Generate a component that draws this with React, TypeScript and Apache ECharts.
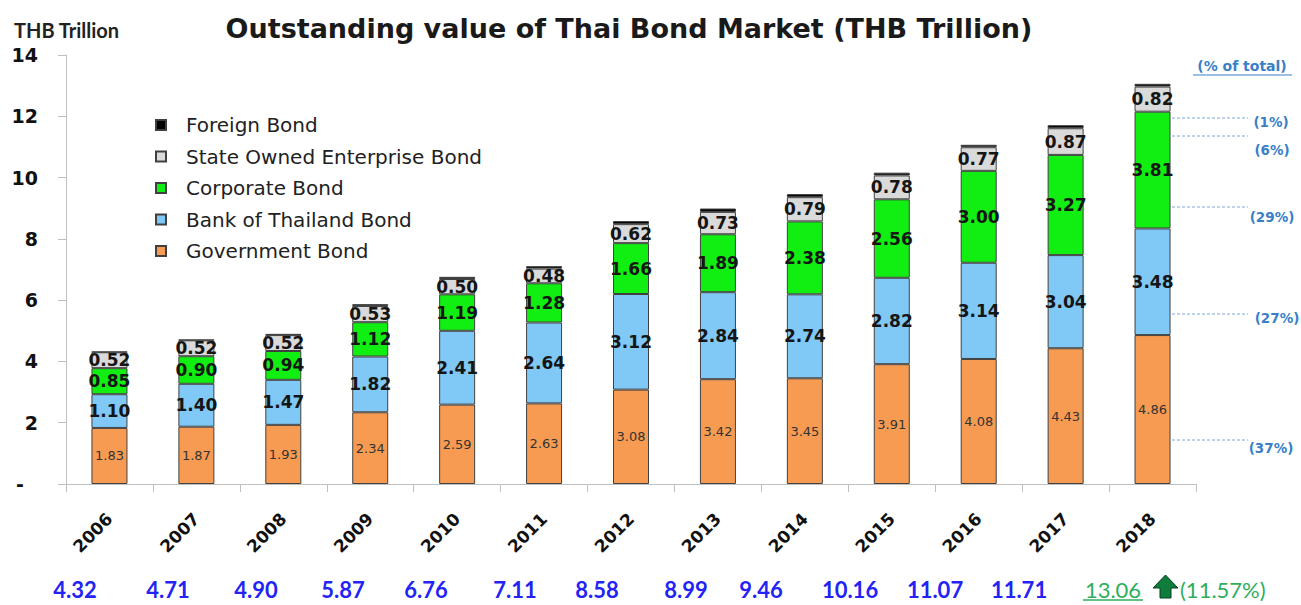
import React, { useEffect, useRef } from "react";
import * as echarts from "echarts";

const years = ["2006", "2007", "2008", "2009", "2010", "2011", "2012", "2013", "2014", "2015", "2016", "2017", "2018"];
const government = [1.83, 1.87, 1.93, 2.34, 2.59, 2.63, 3.08, 3.42, 3.45, 3.91, 4.08, 4.43, 4.86];
const bankOfThailand = [1.1, 1.4, 1.47, 1.82, 2.41, 2.64, 3.12, 2.84, 2.74, 2.82, 3.14, 3.04, 3.48];
const corporate = [0.85, 0.9, 0.94, 1.12, 1.19, 1.28, 1.66, 1.89, 2.38, 2.56, 3.0, 3.27, 3.81];
const stateOwned = [0.52, 0.52, 0.52, 0.53, 0.5, 0.48, 0.62, 0.73, 0.79, 0.78, 0.77, 0.87, 0.82];
const foreign = [0.02, 0.02, 0.04, 0.06, 0.07, 0.08, 0.1, 0.11, 0.1, 0.09, 0.08, 0.1, 0.09];
const totals = ["4.32", "4.71", "4.90", "5.87", "6.76", "7.11", "8.58", "8.99", "9.46", "10.16", "11.07", "11.71", "13.06"];
const growthText = "(11.57%)";
const shareHeader = "(% of total)";
const shareLabels = ["(1%)", "(6%)", "(29%)", "(27%)", "(37%)"];

// layout constants (pixels)
const totalsX = [75, 168, 256, 343, 426, 515, 597, 686, 761, 850, 935, 1019, 1113];
const totalsY = 589;
const shareLineY = [118, 136, 207, 314, 440];
const shareTextPos = [[1271, 122], [1272, 150], [1272, 217], [1277, 318], [1271, 448]];

const BORDER = "#404040";

export default function App() {
  const ref = useRef<HTMLDivElement>(null);
  useEffect(() => {
    const chart = echarts.init(ref.current!, null, { renderer: "svg" });
    const boldLabel = {
      show: true,
      position: "inside",
      fontFamily: "DejaVu Sans",
      fontWeight: "bold",
      fontSize: 17,
      color: "#151515",
      formatter: (p: any) => p.value.toFixed(2),
    };
    const mk = (name: string, data: number[], color: string, label: any) => ({
      name,
      type: "bar",
      stack: "total",
      barWidth: 36,
      data,
      itemStyle: { color, borderColor: BORDER, borderWidth: 1 },
      label,
    });

    const graphics: any[] = [];
    graphics.push({
      type: "text",
      x: 629,
      y: 28,
      style: {
        text: "Outstanding value of Thai Bond Market (THB Trillion)",
        fontFamily: "DejaVu Sans",
        fontWeight: "bold",
        fontSize: 27,
        fill: "#1a1a1a",
        align: "center",
        verticalAlign: "middle",
        textAlign: "center",
        textVerticalAlign: "middle",
      },
    });
    graphics.push({
      type: "text",
      x: 14,
      y: 30,
      style: {
        text: "THB Trillion",
        fontFamily: "Lato",
        fontWeight: "bold",
        fontSize: 20,
        fill: "#222",
        align: "left",
        verticalAlign: "middle",
        textAlign: "left",
        textVerticalAlign: "middle",
      },
    });
    totals.forEach((t, i) => {
      const last = i === totals.length - 1;
      graphics.push({
        type: "text",
        x: totalsX[i],
        y: totalsY,
        style: {
          text: t,
          fontFamily: "Lato",
          fontWeight: last ? "normal" : "bold",
          fontSize: 22,
          fill: last ? "#2EAE5C" : "#2323F5",
          align: "center",
          verticalAlign: "middle",
          textAlign: "center",
          textVerticalAlign: "middle",
        },
      });
    });
    graphics.push({
      type: "line",
      shape: { x1: 1083, y1: 600, x2: 1143, y2: 600 },
      style: { stroke: "#2EAE5C", lineWidth: 1.5 },
    });
    graphics.push({
      type: "polygon",
      shape: {
        points: [
          [1153, 588], [1165.5, 575], [1178, 588], [1171, 588], [1171, 598], [1160, 598], [1160, 588],
        ],
      },
      style: { fill: "#0E7C3A", stroke: "#08401f", lineWidth: 1 },
    });
    graphics.push({
      type: "text",
      x: 1180,
      y: totalsY,
      style: {
        text: growthText,
        fontFamily: "Lato",
        fontSize: 22,
        fill: "#2EAE5C",
        align: "left",
        verticalAlign: "middle",
        textAlign: "left",
        textVerticalAlign: "middle",
      },
    });
    graphics.push({
      type: "text",
      x: 1242,
      y: 66,
      style: {
        text: shareHeader,
        fontFamily: "DejaVu Sans",
        fontWeight: "bold",
        fontSize: 14,
        fill: "#3A7FC8",
        align: "center",
        verticalAlign: "middle",
        textAlign: "center",
        textVerticalAlign: "middle",
      },
    });
    graphics.push({
      type: "line",
      shape: { x1: 1193, y1: 75, x2: 1292, y2: 75 },
      style: { stroke: "#3A7FC8", lineWidth: 1 },
    });
    shareLineY.forEach((y) => {
      graphics.push({
        type: "line",
        shape: { x1: 1172, y1: y, x2: 1248, y2: y },
        style: { stroke: "#7FA7D8", lineWidth: 1, lineDash: [3, 2] },
      });
    });
    shareLabels.forEach((t, i) => {
      graphics.push({
        type: "text",
        x: shareTextPos[i][0],
        y: shareTextPos[i][1],
        style: {
          text: t,
          fontFamily: "DejaVu Sans",
          fontWeight: "bold",
          fontSize: 13.5,
          fill: "#3A7FC8",
          align: "center",
          verticalAlign: "middle",
          textAlign: "center",
          textVerticalAlign: "middle",
        },
      });
    });

    chart.setOption({
      animation: false,
      backgroundColor: "#ffffff",
      grid: { left: 66, top: 55, width: 1130, height: 429, containLabel: false },
      legend: {
        orient: "vertical",
        left: 155,
        top: 115,
        padding: 0,
        itemWidth: 10,
        itemHeight: 10,
        itemGap: 11.5,
        icon: "rect",
        data: ["Foreign Bond", "State Owned Enterprise Bond", "Corporate Bond", "Bank of Thailand Bond", "Government Bond"],
        textStyle: {
          fontFamily: "DejaVu Sans",
          fontSize: 20,
          lineHeight: 20,
          color: "#222",
          padding: [0, 0, 0, 15],
        },
      },
      xAxis: {
        type: "category",
        data: years,
        axisLine: { lineStyle: { color: "#bfbfbf" } },
        axisTick: { show: true, length: 8, lineStyle: { color: "#bfbfbf" } },
        axisLabel: {
          rotate: 45,
          margin: 32,
          fontFamily: "DejaVu Sans",
          fontWeight: "bold",
          fontSize: 17,
          color: "#111",
        },
      },
      yAxis: {
        type: "value",
        min: 0,
        max: 14,
        interval: 2,
        splitLine: { show: false },
        axisLine: { show: true, lineStyle: { color: "#bfbfbf" } },
        axisTick: { show: true, length: 8, lineStyle: { color: "#bfbfbf" } },
        axisLabel: {
          margin: 28,
          fontFamily: "DejaVu Sans",
          fontWeight: "bold",
          fontSize: 19,
          color: "#111",
          formatter: (v: number) => (v === 0 ? "{z|-}" : String(v)),
          rich: {
            z: { padding: [0, 14, 0, 0], fontFamily: "DejaVu Sans", fontWeight: "bold", fontSize: 19, color: "#111" },
          },
        },
      },
      series: [
        mk("Government Bond", government, "#F79B52", {
          show: true,
          position: "inside",
          fontFamily: "DejaVu Sans",
          fontSize: 13,
          color: "#333",
          formatter: (p: any) => p.value.toFixed(2),
        }),
        mk("Bank of Thailand Bond", bankOfThailand, "#80C8F5", boldLabel),
        mk("Corporate Bond", corporate, "#11EE11", boldLabel),
        mk("State Owned Enterprise Bond", stateOwned, "#DADADA", boldLabel),
        mk("Foreign Bond", foreign, "#000000", { show: false }),
      ],
      graphic: graphics,
    });
    return () => chart.dispose();
  }, []);
  return <div ref={ref} style={{ position: "fixed", left: 0, top: 0, width: 1301, height: 605 }} />;
}
